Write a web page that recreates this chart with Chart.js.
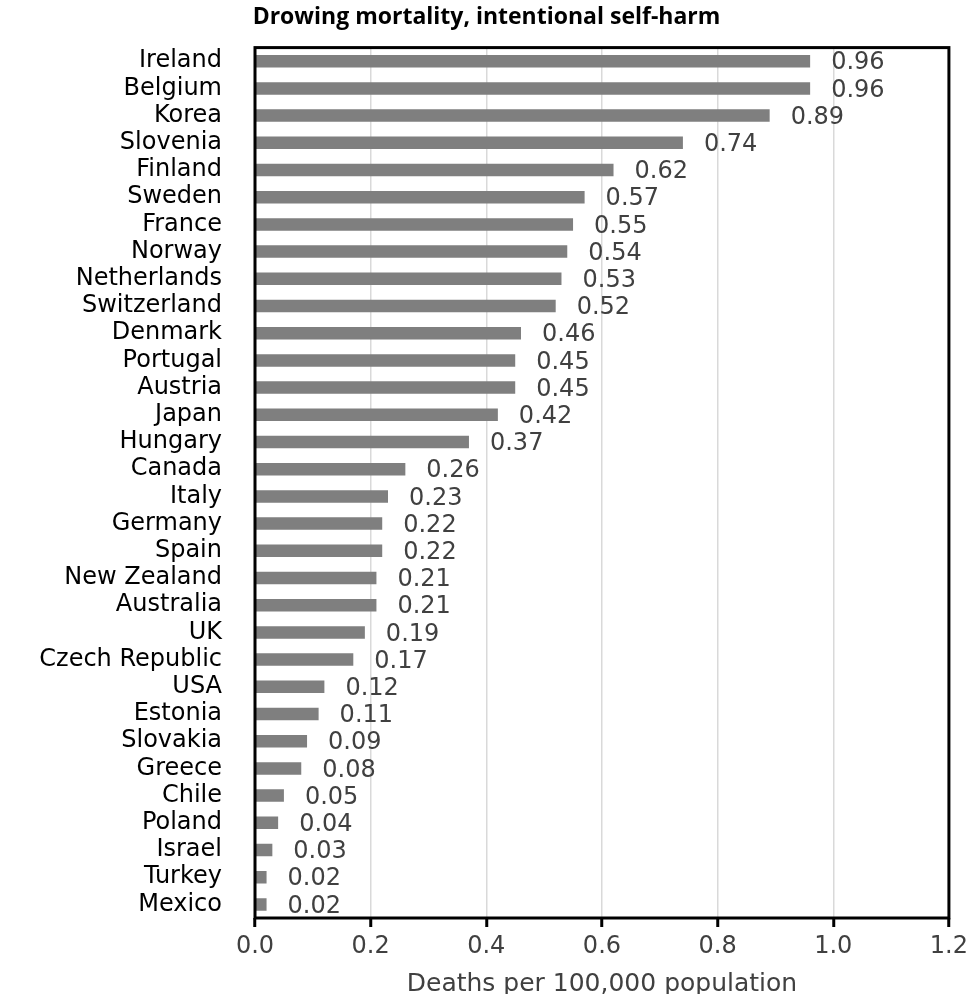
<!DOCTYPE html>
<html>
<head>
<meta charset="utf-8">
<script src="https://cdn.jsdelivr.net/npm/chart.js@4"></script>
<style>
  html, body { margin: 0; padding: 0; background: #fff; }
  #wrap { width: 973px; height: 994px; }
</style>
</head>
<body>
<div id="wrap"><canvas id="barChart" width="973" height="994"></canvas></div>
<script>
  const countries = ["Ireland", "Belgium", "Korea", "Slovenia", "Finland", "Sweden", "France", "Norway",
    "Netherlands", "Switzerland", "Denmark", "Portugal", "Austria", "Japan", "Hungary", "Canada",
    "Italy", "Germany", "Spain", "New Zealand", "Australia", "UK", "Czech Republic", "USA",
    "Estonia", "Slovakia", "Greece", "Chile", "Poland", "Israel", "Turkey", "Mexico"];
  const deaths = [0.96, 0.96, 0.89, 0.74, 0.62, 0.57, 0.55, 0.54,
    0.53, 0.52, 0.46, 0.45, 0.45, 0.42, 0.37, 0.26,
    0.23, 0.22, 0.22, 0.21, 0.21, 0.19, 0.17, 0.12,
    0.11, 0.09, 0.08, 0.05, 0.04, 0.03, 0.02, 0.02];
  const xTicks = [0, 0.2, 0.4, 0.6, 0.8, 1.0, 1.2];

  // value labels at the end of each bar + black frame round the plot
  const barLabels = {
    id: "barLabels",
    afterDatasetsDraw(chart) {
      const ctx = chart.ctx;
      const meta = chart.getDatasetMeta(0);
      ctx.save();
      ctx.font = "24px 'DejaVu Sans'";
      ctx.fillStyle = "#404040";
      ctx.textBaseline = "middle";
      ctx.textAlign = "left";
      meta.data.forEach((bar, i) => {
        ctx.fillText(deaths[i].toFixed(2), bar.x + 21, bar.y + 2);
      });
      const a = chart.chartArea;
      ctx.strokeStyle = "#000";
      ctx.lineWidth = 3;
      ctx.strokeRect(a.left, a.top, a.right - a.left, a.bottom - a.top);
      ctx.restore();
    }
  };

  const ctx = document.getElementById("barChart").getContext("2d");
  const barChart = new Chart(ctx, {
    type: "bar",
    data: {
      labels: countries,
      datasets: [{
        data: deaths,
        backgroundColor: "#7f7f7f",
        borderWidth: 0,
        barPercentage: 0.46,
        categoryPercentage: 1.0
      }]
    },
    options: {
      indexAxis: "y",
      responsive: false,
      animation: false,
      layout: { padding: { left: 0, right: 0, top: 0, bottom: 0 } },
      plugins: {
        legend: { display: false },
        tooltip: { enabled: false },
        title: {
          display: true,
          text: "Drowing mortality, intentional self-harm",
          color: "#000",
          font: { family: "'Open Sans'", size: 23, weight: "bold" },
          padding: { top: 4, bottom: 16 }
        }
      },
      scales: {
        x: {
          min: 0,
          max: 1.2,
          afterBuildTicks(scale) {
            scale.ticks = xTicks.map((v) => ({ value: v }));
          },
          afterFit(scale) { scale.height = 76; },
          grid: {
            color: "#d9d9d9",
            lineWidth: 1.5,
            drawTicks: true,
            tickLength: 9,
            tickColor: "#000",
            tickWidth: 3
          },
          border: { display: false },
          ticks: {
            color: "#404040",
            font: { family: "'DejaVu Sans'", size: 24 },
            padding: 5,
            callback: (v) => Number(v).toFixed(1)
          },
          title: {
            display: true,
            text: "Deaths per 100,000 population",
            color: "#404040",
            font: { family: "'DejaVu Sans'", size: 25 },
            padding: { top: 0, bottom: -5 }
          }
        },
        y: {
          afterFit(scale) { scale.width = 255; },
          grid: { display: false, drawTicks: false },
          border: { display: false },
          ticks: {
            color: "#000",
            font: { family: "'DejaVu Sans'", size: 24 },
            padding: 33,
            autoSkip: false
          }
        }
      }
    },
    plugins: [barLabels]
  });
</script>
</body>
</html>
